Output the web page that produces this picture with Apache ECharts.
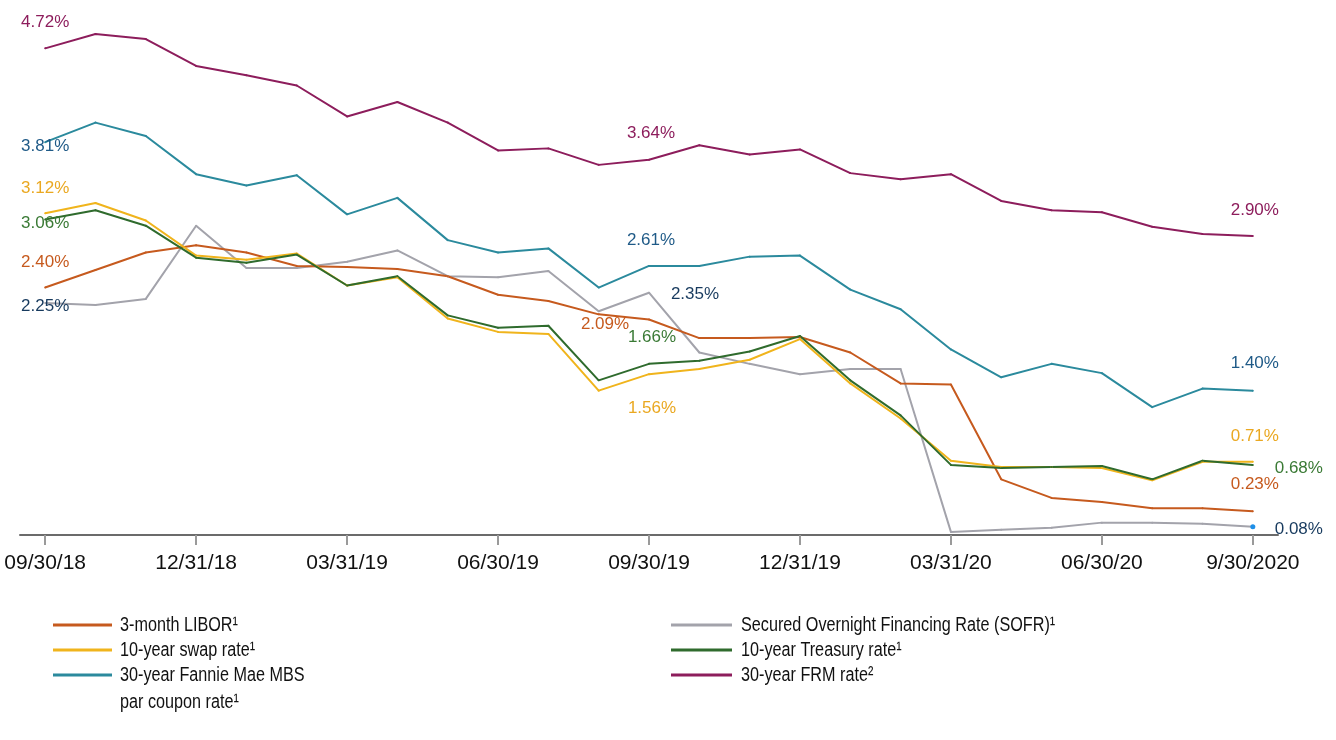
<!DOCTYPE html>
<html>
<head>
<meta charset="utf-8">
<script src="https://cdn.jsdelivr.net/npm/echarts@6/dist/echarts.min.js"></script>
<style>
html,body{margin:0;padding:0;background:#fff;}
#chart{width:1336px;height:740px;}
</style>
</head>
<body>
<div id="chart"></div>
<script>
// ---- data ----
const dates = ['09/30/18','10/31/18','11/30/18','12/31/18','01/31/19','02/28/19','03/31/19','04/30/19','05/31/19','06/30/19','07/31/19','08/31/19','09/30/19','10/31/19','11/30/19','12/31/19','01/31/20','02/29/20','03/31/20','04/30/20','05/31/20','06/30/20','07/31/20','08/31/20','9/30/2020'];
const libor    = [2.40, 2.57, 2.74, 2.81, 2.74, 2.61, 2.60, 2.58, 2.51, 2.33, 2.27, 2.14, 2.09, 1.91, 1.91, 1.92, 1.77, 1.47, 1.46, 0.54, 0.36, 0.32, 0.26, 0.26, 0.23];
const swap     = [3.12, 3.22, 3.05, 2.71, 2.67, 2.73, 2.42, 2.50, 2.10, 1.97, 1.95, 1.40, 1.56, 1.61, 1.70, 1.90, 1.47, 1.13, 0.72, 0.66, 0.66, 0.65, 0.53, 0.71, 0.71];
const mbs      = [3.81, 4.00, 3.87, 3.50, 3.39, 3.49, 3.11, 3.27, 2.86, 2.74, 2.78, 2.40, 2.61, 2.61, 2.70, 2.71, 2.38, 2.19, 1.80, 1.53, 1.66, 1.57, 1.24, 1.42, 1.40];
const sofr     = [2.25, 2.23, 2.29, 3.00, 2.59, 2.59, 2.65, 2.76, 2.51, 2.50, 2.56, 2.17, 2.35, 1.77, 1.66, 1.56, 1.61, 1.61, 0.03, 0.05, 0.07, 0.12, 0.12, 0.11, 0.08];
const treasury = [3.06, 3.15, 3.00, 2.69, 2.64, 2.72, 2.42, 2.51, 2.13, 2.01, 2.03, 1.50, 1.66, 1.69, 1.78, 1.93, 1.50, 1.16, 0.68, 0.65, 0.66, 0.67, 0.54, 0.72, 0.68];
const frm      = [4.72, 4.86, 4.81, 4.55, 4.46, 4.36, 4.06, 4.20, 4.00, 3.73, 3.75, 3.59, 3.64, 3.78, 3.69, 3.74, 3.51, 3.45, 3.50, 3.24, 3.15, 3.13, 2.99, 2.92, 2.90];
const names = {
  libor: '3-month LIBOR¹',
  swap: '10-year swap rate¹',
  mbs: '30-year Fannie Mae MBS par coupon rate¹',
  sofr: 'Secured Overnight Financing Rate (SOFR)¹',
  treasury: '10-year Treasury rate¹',
  frm: '30-year FRM rate²'
};
const legendLeftCol  = ['libor', 'swap', 'mbs'];
const legendRightCol = ['sofr', 'treasury', 'frm'];
const legendLines = {
  libor: ['3-month LIBOR¹'],
  swap: ['10-year swap rate¹'],
  mbs: ['30-year Fannie Mae MBS', 'par coupon rate¹'],
  sofr: ['Secured Overnight Financing Rate (SOFR)¹'],
  treasury: ['10-year Treasury rate¹'],
  frm: ['30-year FRM rate²']
};

// ---- styles ----
const FONT = "'Liberation Sans', Arial, sans-serif";
const colors = {
  sofr: '#a3a3ab', libor: '#c65a1e', swap: '#f0b41c',
  treasury: '#2f6b2d', mbs: '#2b8a9d', frm: '#8d1d5c'
};
// label placement per series: index -> [dx, dy]
const labelPos = {
  frm:      {color:'#8d1d5c', pts:{0:[0,-26], 12:[2,-26], 24:[2,-26]}},
  mbs:      {color:'#1f5a87', pts:{0:[0,4], 12:[2,-26], 24:[2,-27]}},
  swap:     {color:'#eaa821', pts:{0:[0,-25], 12:[3,34], 24:[2,-25]}},
  treasury: {color:'#3a7a35', pts:{0:[0,4], 12:[3,-27], 24:[46,3]}},
  libor:    {color:'#c65a1e', pts:{0:[0,-25], 12:[-44,5], 24:[2,-27]}},
  sofr:     {color:'#173a5e', pts:{0:[0,3], 12:[46,2], 24:[46,3]}}
};

function mk(key, values) {
  const color = colors[key];
  const lp = labelPos[key];
  const data = values.map((v, i) => {
    const p = lp.pts[i];
    if (!p) return v;
    const item = {
      value: v,
      label: {
        show: true, position: 'inside', offset: p,
        formatter: (d) => d.value.toFixed(2) + '%',
        color: lp.color, fontSize: 17, fontFamily: FONT
      }
    };
    if (key === 'sofr' && i === values.length - 1) {
      item.symbolSize = 5;
      item.itemStyle = {color: '#1e8fe8'};
    }
    return item;
  });
  return {
    name: names[key], type: 'line', data: data,
    symbol: 'circle', symbolSize: 2, showSymbol: true,
    itemStyle: {color: color},
    lineStyle: {color: color, width: 2},
    emphasis: {disabled: true},
    animation: false
  };
}

// legend text (narrow face emulated by horizontal scaling)
const LEG_TOP = 625, LEG_STEP = 25, LEG_SCALE = 0.81;
function legendTexts(keys, x) {
  const els = [];
  keys.forEach((k, r) => {
    legendLines[k].forEach((t, j) => {
      els.push({
        type: 'text', x: x, y: LEG_TOP + r * LEG_STEP + j * 27.5,
        scaleX: LEG_SCALE, scaleY: 1, silent: true,
        style: {text: t, font: '20px ' + FONT, fill: '#111', verticalAlign: 'middle', align: 'left'}
      });
    });
  });
  return els;
}

const chart = echarts.init(document.getElementById('chart'));
chart.setOption({
  backgroundColor: '#fff',
  animation: false,
  grid: {left: 20, right: 58, top: 19.5, bottom: 205, containLabel: false},
  xAxis: {
    type: 'category', data: dates, boundaryGap: true,
    axisLine: {lineStyle: {color: '#6b6b6b', width: 2}},
    axisTick: {show: true, alignWithLabel: true, interval: 2, length: 10, lineStyle: {color: '#9a9a9a', width: 2}},
    axisLabel: {interval: 2, margin: 18, fontSize: 21, fontFamily: FONT, color: '#111'},
    splitLine: {show: false}
  },
  yAxis: {
    type: 'value', min: 0, max: 5, show: false,
    splitLine: {show: false}
  },
  legend: [
    {
      orient: 'vertical', left: 53, top: LEG_TOP - 1.5, padding: 0, itemGap: LEG_STEP - 3,
      itemWidth: 59, itemHeight: 3, icon: 'rect',
      data: legendLeftCol.map(k => names[k]),
      formatter: () => '', selectedMode: false
    },
    {
      orient: 'vertical', left: 671, top: LEG_TOP - 1.5, padding: 0, itemGap: LEG_STEP - 3,
      itemWidth: 61, itemHeight: 3, icon: 'rect',
      data: legendRightCol.map(k => names[k]),
      formatter: () => '', selectedMode: false
    }
  ],
  graphic: legendTexts(legendLeftCol, 120).concat(legendTexts(legendRightCol, 741)),
  series: ['sofr', 'libor', 'swap', 'treasury', 'mbs', 'frm'].map(k =>
    mk(k, {sofr, libor, swap, treasury, mbs, frm}[k]))
});
</script>
</body>
</html>
